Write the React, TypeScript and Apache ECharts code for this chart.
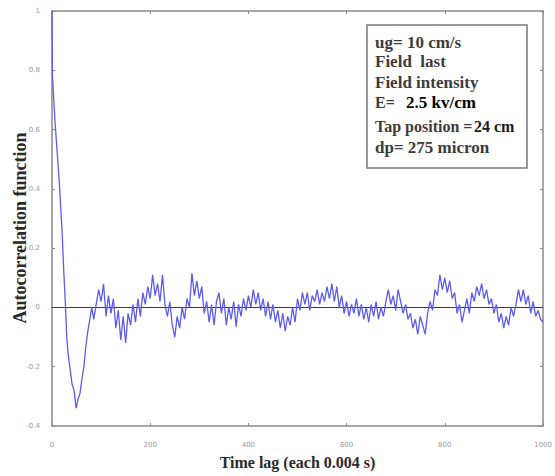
import React, { useEffect, useRef } from "react";
import * as echarts from "echarts";

// Early (fast-decay) part of the autocorrelation: [lag, value]
const earlyLags = [0, 1, 3, 6, 9, 12, 15, 18, 21, 24, 27, 30, 33, 37, 41, 45, 49, 53, 57, 61, 65, 69, 73, 77, 81];
const earlyValues = [1.0, 0.78, 0.72, 0.63, 0.56, 0.49, 0.42, 0.33, 0.24, 0.12, 0.02, -0.1, -0.16, -0.21, -0.26, -0.28, -0.34, -0.31, -0.29, -0.24, -0.2, -0.13, -0.08, -0.04, 0.0];

// Fluctuating part, sampled every 5 lags starting at lag 85
const noisyStartLag = 85;
const noisyStep = 5;
const noisyValues = [
  -0.04, 0.01, 0.06, 0.02, 0.08, -0.03, 0.04, -0.02, 0.03, -0.07,
  -0.01, -0.11, -0.03, -0.12, -0.02, -0.06, 0.01, -0.05, 0.03, -0.03,
  0.05, 0.01, 0.07, 0.03, 0.11, 0.04, 0.08, 0.02, 0.11, 0.01,
  -0.03, 0.02, -0.06, -0.1, -0.03, -0.07, 0.0, -0.04, 0.03, 0.0,
  0.115, 0.04, 0.09, 0.03, 0.07, -0.02, 0.02, -0.05, 0.01, -0.06,
  0.02, 0.05, -0.02, 0.03, -0.06, 0.0, -0.04, 0.02, -0.065, 0.01,
  -0.03, 0.03, -0.01, 0.04, 0.0, 0.06, 0.01, 0.05, -0.01, 0.03,
  -0.03, 0.02, -0.04, 0.01, -0.05, -0.01, -0.07, -0.02, -0.08, -0.03,
  -0.06, 0.0, -0.05, 0.03, -0.01, 0.05, 0.01, 0.05, -0.01, 0.04,
  0.02, 0.06, 0.01, 0.05, 0.02, 0.07, 0.03, 0.08, 0.02, 0.07,
  0.0, 0.04, -0.02, 0.02, -0.03, 0.01, -0.02, 0.03, -0.03, 0.01,
  -0.04, 0.0, -0.05, 0.01, -0.03, 0.02, -0.04, 0.0, -0.03, 0.02,
  0.06, 0.01, 0.04, -0.01, 0.06, 0.02, -0.02, 0.01, -0.04, -0.02,
  -0.07, -0.04, -0.09, -0.03, -0.06, -0.09, -0.02, 0.02, -0.01, 0.06,
  0.04, 0.11, 0.06, 0.1, 0.05, 0.09, 0.03, 0.05, -0.02, 0.01,
  -0.05, -0.01, 0.03, -0.02, 0.05, 0.02, 0.07, 0.04, 0.08, 0.03,
  0.06, 0.01, 0.03, -0.02, 0.01, -0.05, -0.02, -0.07, -0.03, -0.06,
  0.0, -0.03, 0.01, 0.06, 0.02, 0.06, 0.01, 0.04, -0.02, 0.02,
  -0.03, -0.01, -0.04, -0.05,
];

const xTicks = { min: 0, max: 1000, interval: 200 };
const yTicks = { min: -0.4, max: 1, interval: 0.2 };

const xTitle = "Time lag (each 0.004 s)";
const yTitle = "Autocorrelation function";

const boxLines = ["ug= 10 cm/s", "Field  last", "Field intensity"];
const fieldLabel = "E=";
const fieldValue = "2.5 kv/cm";
const tapLabel = "Tap position =";
const tapPosition = "24 cm";
const particleSize = "dp= 275 micron";

export default function App() {
  const ref = useRef<HTMLDivElement>(null);

  useEffect(() => {
    if (!ref.current) return;
    const chart = echarts.init(ref.current, undefined, { renderer: "svg" });

    const data: [number, number][] = [];
    earlyLags.forEach((l, i) => data.push([l, earlyValues[i]]));
    noisyValues.forEach((v, i) => data.push([noisyStartLag + i * noisyStep, v]));

    const axisGray = "#8a8a8a";
    const labelStyle = { color: "#9a9a9a", fontSize: 7, fontFamily: "DejaVu Sans" };
    const serif = "Liberation Serif";

    const axisCommon = {
      axisLine: { show: true, onZero: false, lineStyle: { color: axisGray, width: 1.5 } },
      axisTick: { show: true, inside: true, length: 3, lineStyle: { color: axisGray } },
      splitLine: { show: false },
    };

    const boxText = (text: string, x: number, y: number, opts: any = {}) => ({
      type: "text",
      x,
      y,
      z: 11,
      style: {
        text,
        fontFamily: serif,
        fontWeight: "bold",
        fontSize: opts.size ?? 17,
        fill: opts.color ?? "#3c3c3c",
        align: opts.align ?? "left",
        verticalAlign: "middle",
      },
    });

    chart.setOption({
      animation: false,
      backgroundColor: "#ffffff",
      grid: { left: 52, right: 12, top: 11, bottom: 50, containLabel: false },
      xAxis: [
        {
          type: "value",
          position: "bottom",
          ...xTicks,
          ...axisCommon,
          axisLabel: { ...labelStyle, margin: 15, formatter: (v: number) => String(v) },
          name: xTitle,
          nameLocation: "middle",
          nameGap: 28,
          nameTextStyle: { fontFamily: serif, fontWeight: "bold", fontSize: 16, color: "#2a2a2a" },
        },
        {
          type: "value",
          position: "top",
          ...xTicks,
          ...axisCommon,
          axisLabel: { show: false },
        },
      ],
      yAxis: [
        {
          type: "value",
          position: "left",
          ...yTicks,
          ...axisCommon,
          axisLabel: { ...labelStyle, margin: 12 },
        },
        {
          type: "value",
          position: "right",
          ...yTicks,
          ...axisCommon,
          axisLabel: { show: false },
        },
      ],
      series: [
        {
          type: "line",
          data,
          showSymbol: false,
          symbol: "none",
          lineStyle: { color: "#5c5cf0", width: 1.3 },
          z: 3,
          markLine: {
            silent: true,
            symbol: ["none", "none"],
            label: { show: false },
            lineStyle: { color: "#3a3a3a", width: 1.2, type: "solid" },
            data: [{ yAxis: 0 }],
            z: 2,
          },
        },
      ],
      graphic: [
        {
          type: "rect",
          shape: { x: 367, y: 25, width: 160, height: 143 },
          style: { fill: "#ffffff", stroke: "#7a7a7a", lineWidth: 1.5 },
          z: 5,
        },
        boxText(boxLines[0], 375, 42),
        boxText(boxLines[1], 375, 61.5),
        boxText(boxLines[2], 375, 82),
        boxText(fieldLabel, 375, 102, { size: 16 }),
        boxText(fieldValue, 406, 102, { color: "#000000" }),
        boxText(tapLabel, 375, 126, { size: 16 }),
        boxText(tapPosition, 474, 126, { color: "#1a1a1a", size: 16 }),
        boxText(particleSize, 375, 147),
        {
          type: "text",
          x: 20,
          y: 228,
          rotation: Math.PI / 2,
          z: 11,
          style: {
            text: yTitle,
            fontFamily: serif,
            fontWeight: "bold",
            fontSize: 18,
            fill: "#2a2a2a",
            align: "center",
            verticalAlign: "middle",
          },
        },
      ],
    });

    return () => chart.dispose();
  }, []);

  return <div ref={ref} style={{ width: 555, height: 476, position: "absolute", left: 0, top: 0 }} />;
}
